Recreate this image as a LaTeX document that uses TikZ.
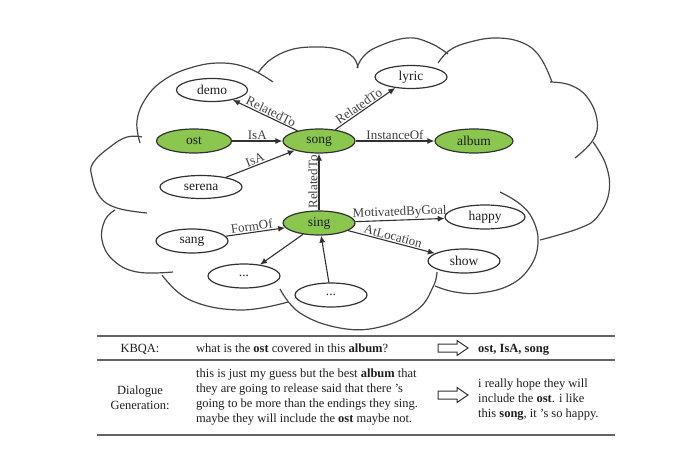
\documentclass[tikz,border=0pt]{standalone}
\usepackage{fontspec}
\setmainfont{Liberation Serif}
\usetikzlibrary{shapes.geometric,arrows.meta}
\definecolor{kgreen}{RGB}{139,199,78}
\definecolor{kline}{RGB}{50,50,50}
\definecolor{ktext}{RGB}{30,30,30}
\definecolor{klabel}{RGB}{65,65,65}
\definecolor{kcloud}{RGB}{70,70,70}
\definecolor{krule}{RGB}{100,100,100}
\begin{document}
\begin{tikzpicture}[x=1pt,y=-1pt,
  ent/.style={ellipse,draw=kline,line width=1.2pt,inner sep=0pt,minimum width=72pt,minimum height=24pt,font=\fontsize{13.5}{15}\selectfont,text=ktext},
  key/.style={ent,fill=kgreen},
  rel/.style={draw=kline,line width=1.1pt,-{Latex[length=7pt,width=6pt]}},
  relrev/.style={draw=kline,line width=1.1pt,{Latex[length=7pt,width=6pt]}-},
  lab/.style={font=\fontsize{13}{15}\selectfont,text=klabel,inner sep=1pt},
  cloudline/.style={draw=kcloud,line width=1.2pt},
  tab/.style={font=\fontsize{12.5}{15}\selectfont,text=ktext,inner sep=0pt},
  hollow/.style={draw=kline,line width=1pt,line join=miter}
]
\useasboundingbox (0,0) rectangle (679,454);

% cloud
\draw[cloudline] plot[smooth,tension=0.7] coordinates {(142,137) (127,137) (110,147) (93,163) (92,177) (100,197) (117,208) (147,213)};
\draw[cloudline] plot[smooth,tension=0.7] coordinates {(140,143) (137,121) (146,98) (164,80) (190,68) (220,63) (248,68) (273,82)};
\draw[cloudline] plot[smooth,tension=0.7] coordinates {(258,73) (270,60) (290,50) (313,47) (337,49) (353,57) (358,68)};
\draw[cloudline] plot[smooth,tension=0.7] coordinates {(357,68) (363,57) (377,47) (407,38) (430,43) (448,54)};
\draw[cloudline] plot[smooth,tension=0.7] coordinates {(438,63) (450,50) (470,42) (497,38) (523,43) (540,57) (552,82)};
\draw[cloudline] plot[smooth,tension=0.7] coordinates {(550,82) (570,85) (587,97) (597,120) (593,140) (575,158)};
\draw[cloudline] plot[smooth,tension=0.7] coordinates {(593,142) (606,165) (609,192) (598,216) (580,228) (540,240)};
\draw[cloudline] plot[smooth,tension=0.7] coordinates {(500,192) (520,204) (533,220) (538,243) (530,267) (510,285) (480,293) (455,292) (435,286)};
\draw[cloudline] plot[smooth,tension=0.7] coordinates {(437,272) (433,287) (417,310) (380,327) (340,328) (300,313) (280,289)};
\draw[cloudline] plot[smooth,tension=0.7] coordinates {(288,302) (240,310) (190,300) (162,275)};
\draw[cloudline] plot[smooth,tension=0.7] coordinates {(173,272) (137,272) (113,260) (102,240) (105,220) (115,210)};

% nodes
\node[key,minimum width=75pt] (ost) at (194,141) {ost};
\node[key] (song) at (319,141) {song};
\node[key,minimum width=78pt] (album) at (474,141) {album};
\node[ent,minimum width=71pt,minimum height=23pt] (demo) at (212,90) {demo};
\node[ent,minimum height=23pt] (lyric) at (411,77) {lyric};
\node[ent,minimum width=82pt,minimum height=23pt] (serena) at (201,187) {serena};
\node[key] (sing) at (319,223) {sing};
\node[ent] (sang) at (192,241) {sang};
\node[ent,minimum width=80pt] (happy) at (485,217) {happy};
\node[ent] (show) at (464,261) {show};
\node[ent] (dotsa) at (244,276) {...};
\node[ent] (dotsb) at (331,295) {...};

% relations
\draw[rel] (ost) -- node[lab,above] {IsA} (song);
\draw[rel] (serena) -- node[lab,above,sloped,pos=0.45] {IsA} (song);
\draw[rel] (song) -- node[lab,above] {InstanceOf} (album);
\draw[relrev] (demo) -- node[lab,above,sloped,pos=0.55] {RelatedTo} (song);
\draw[rel] (song) -- node[lab,above,sloped,pos=0.45] {RelatedTo} (lyric);
\draw[rel] (sing) -- node[lab,above,sloped] {RelatedTo} (song);
\draw[rel] (sang) -- node[lab,above,sloped,pos=0.45] {FormOf} (sing);
\draw[rel] (sing) -- node[lab,above,sloped] {MotivatedByGoal} (happy);
\draw[rel] (sing) -- node[lab,above,sloped] {AtLocation} (show);
\draw[rel] (sing) -- (dotsa);
\draw[rel] (dotsb) -- (sing);

% table
\draw[krule,line width=1.6pt] (97,336) -- (615,336);
\draw[krule,line width=1.6pt] (97,360) -- (615,360);
\draw[krule,line width=1.6pt] (97,435) -- (615,435);

\node[tab,anchor=base] (kbqa) at (140,352) {KBQA:};
\node[tab,anchor=base west] (q) at (196,352) {what is the \textbf{ost} covered in this \textbf{album}?};
\node[tab,anchor=base west] (a) at (478,352) {\textbf{ost, IsA, song}};
\node[tab,align=center] (dg) at (140,398) {Dialogue\\Generation:};
\node[tab,align=left,anchor=west] (ctx) at (196,397) {this is just my guess but the best \textbf{album} that\\they are going to release said that there 's\\going to be more than the endings they sing.\\maybe they will include the \textbf{ost} maybe not.};
\node[tab,align=left,anchor=west] (resp) at (478,400) {i really hope they will\\include the \textbf{ost}. i like\\this \textbf{song}, it 's so happy.};

\draw[hollow] (438,344) -- (457,344) -- (457,340.5) -- (468,348) -- (457,355.5) -- (457,352) -- (438,352) -- cycle;
\draw[hollow] (438,391) -- (457,391) -- (457,387.5) -- (468,395) -- (457,402.5) -- (457,399) -- (438,399) -- cycle;
\end{tikzpicture}
\end{document}
